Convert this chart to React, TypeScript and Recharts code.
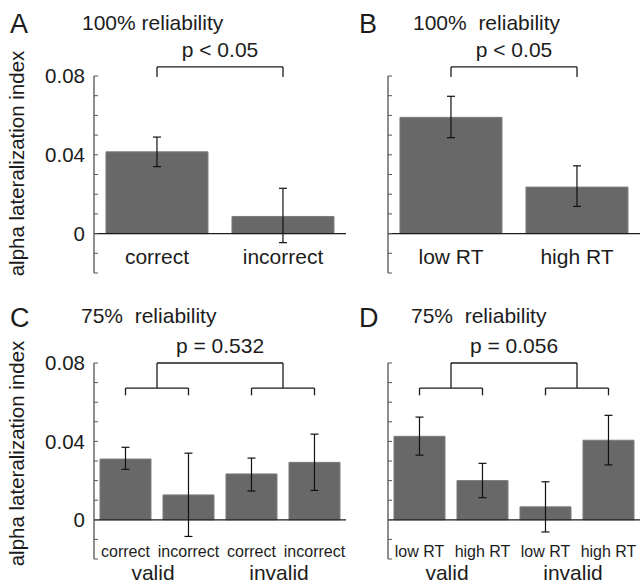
import { Bar, BarChart, ErrorBar, ReferenceLine, XAxis, YAxis } from "recharts";

const INK = "#1c1c1c";
const BAR_FILL = "#686868";
const FONT = '"Liberation Sans", Arial, Helvetica, sans-serif';

const Y_DOMAIN = [-0.02, 0.08];
const Y_TICKS = [-0.02, -0.01, 0, 0.01, 0.02, 0.03, 0.04, 0.05, 0.06, 0.07, 0.08];
const Y_LABELED = [0, 0.04, 0.08];
const PLOT_W = 252;

// panel A: 100% reliability, correct vs incorrect
const aKeys = ["correct", "incorrect"];
const aLabels = ["correct", "incorrect"];
const aMean = [0.0415, 0.0087];
const aLow = [0.034, -0.0046];
const aHigh = [0.049, 0.023];

// panel B: 100% reliability, low vs high RT
const bKeys = ["low RT", "high RT"];
const bLabels = ["low RT", "high RT"];
const bMean = [0.059, 0.0236];
const bLow = [0.0487, 0.0138];
const bHigh = [0.0697, 0.0344];

// panel C: 75% reliability
const cKeys = ["v-correct", "v-incorrect", "i-correct", "i-incorrect"];
const cLabels = ["correct", "incorrect", "correct", "incorrect"];
const cMean = [0.031, 0.0127, 0.0234, 0.0293];
const cLow = [0.0257, -0.0085, 0.0147, 0.015];
const cHigh = [0.037, 0.034, 0.0315, 0.0437];

// panel D: 75% reliability, RT split
const dKeys = ["v-low", "v-high", "i-low", "i-high"];
const dLabels = ["low RT", "high RT", "low RT", "high RT"];
const dMean = [0.0426, 0.02, 0.0066, 0.0406];
const dLow = [0.033, 0.0113, -0.0062, 0.028];
const dHigh = [0.0524, 0.0288, 0.0194, 0.0533];

const groups = ["valid", "invalid"];

function rows(keys: string[], mean: number[], low: number[], high: number[]) {
  return keys.map((k, i) => ({
    key: k,
    mean: mean[i],
    err: [mean[i] - low[i], high[i] - mean[i]],
  }));
}

type Seg = { from: string; to: string; y: number; leg: number; pos?: "start" | "middle"; label?: string };

function bracket(s: Seg, id: string) {
  const pos = s.pos ?? "middle";
  const common = { stroke: INK, strokeWidth: 1.3, ifOverflow: "visible" as const, position: pos };
  return [
    <ReferenceLine
      key={id + "h"}
      {...common}
      segment={[{ x: s.from, y: s.y }, { x: s.to, y: s.y }]}
      label={s.label ? { value: s.label, position: "top", offset: 10, fontSize: 21, fill: INK } : undefined}
    />,
    <ReferenceLine key={id + "l"} {...common} segment={[{ x: s.from, y: s.y }, { x: s.from, y: s.leg }]} />,
    <ReferenceLine key={id + "r"} {...common} segment={[{ x: s.to, y: s.y }, { x: s.to, y: s.leg }]} />,
  ];
}

function YTick(props: any) {
  const { x, y, payload, showLabel } = props;
  const ax = x + 6;
  const v = payload.value;
  const labeled = showLabel && Y_LABELED.some((t) => Math.abs(t - v) < 1e-9);
  return (
    <g>
      <line x1={ax} x2={ax + 4} y1={y} y2={y} stroke="#555" strokeWidth={1} />
      {labeled && (
        <text x={x - 3} y={y} dy="0.36em" textAnchor="end" fontSize={20.5} fill={INK}>
          {v === 0 ? "0" : v.toFixed(2)}
        </text>
      )}
    </g>
  );
}

function XTick(props: any) {
  const { x, y, index, labels, size, dy, grouped } = props;
  const i = index ?? props.payload?.index ?? 0;
  return (
    <g>
      <text x={x} y={y + dy} textAnchor="middle" fontSize={size} fill={INK}>
        {labels[i]}
      </text>
      {grouped && i % 2 === 0 && (
        <text x={x + PLOT_W / labels.length / 2 - 4} y={y + 20.5} textAnchor="middle" fontSize={21} fill={INK}>
          {groups[i / 2]}
        </text>
      )}
    </g>
  );
}

type PanelProps = {
  data: any[];
  labels: string[];
  left: number;
  top: number;
  width: number;
  height: number;
  marginTop: number;
  marginLeft: number;
  xAxisHeight: number;
  showYLabels: boolean;
  brackets: Seg[];
  tickSize: number;
  tickDy: number;
  grouped: boolean;
};

function Panel(p: PanelProps) {
  return (
    <div style={{ position: "absolute", left: p.left, top: p.top }}>
      <BarChart
        width={p.width}
        height={p.height}
        data={p.data}
        margin={{ top: p.marginTop, right: p.width - p.marginLeft - 60 - PLOT_W, bottom: 0, left: p.marginLeft }}
        barCategoryGap="9.5%"
      >
        <XAxis
          dataKey="key"
          height={p.xAxisHeight}
          axisLine={false}
          tickLine={false}
          tickSize={0}
          tickMargin={0}
          interval={0}
          tick={<XTick labels={p.labels} size={p.tickSize} dy={p.tickDy} grouped={p.grouped} />}
        />
        <YAxis
          width={60}
          domain={Y_DOMAIN}
          ticks={Y_TICKS}
          allowDataOverflow
          axisLine={{ stroke: "#444", strokeWidth: 1.2 }}
          tickLine={false}
          tickSize={0}
          tickMargin={6}
          interval={0}
          tick={<YTick showLabel={p.showYLabels} />}
        />
        <Bar dataKey="mean" fill={BAR_FILL} stroke="#7c7c7c" strokeWidth={1} isAnimationActive={false}>
          <ErrorBar dataKey="err" width={4} stroke="#111" strokeWidth={1.2} isAnimationActive={false} />
        </Bar>
        <ReferenceLine y={0} stroke={INK} strokeWidth={1.2} />
        {p.brackets.flatMap((s, i) => bracket(s, "b" + i))}
      </BarChart>
    </div>
  );
}

export default function App() {
  const topProps = { height: 300, marginTop: 76, xAxisHeight: 27, tickSize: 21, tickDy: -9, grouped: false };
  const botProps = { height: 295, marginTop: 73, xAxisHeight: 26, tickSize: 16, tickDy: -2, grouped: true };
  const txt = { fill: INK, style: { whiteSpace: "pre" as const } };
  return (
    <div
      style={{
        position: "absolute",
        left: 0,
        top: 0,
        width: 641,
        height: 585,
        background: "#fff",
        fontFamily: FONT,
        overflow: "hidden",
      }}
    >
      <Panel
        {...topProps}
        data={rows(aKeys, aMean, aLow, aHigh)}
        labels={aLabels}
        left={0}
        top={0}
        width={350}
        marginLeft={34}
        showYLabels
        brackets={[{ from: "correct", to: "incorrect", y: 0.0846, leg: 0.0795, label: "p < 0.05" }]}
      />
      <Panel
        {...topProps}
        data={rows(bKeys, bMean, bLow, bHigh)}
        labels={bLabels}
        left={300}
        top={0}
        width={341}
        marginLeft={28}
        showYLabels={false}
        brackets={[{ from: "low RT", to: "high RT", y: 0.0846, leg: 0.0795, label: "p < 0.05" }]}
      />
      <Panel
        {...botProps}
        data={rows(cKeys, cMean, cLow, cHigh)}
        labels={cLabels}
        left={0}
        top={290}
        width={350}
        marginLeft={34}
        showYLabels
        brackets={[
          { from: "v-correct", to: "v-incorrect", y: 0.0672, leg: 0.0635 },
          { from: "i-correct", to: "i-incorrect", y: 0.0672, leg: 0.0635 },
          { from: "v-incorrect", to: "i-incorrect", y: 0.08, leg: 0.0672, pos: "start", label: "p = 0.532" },
        ]}
      />
      <Panel
        {...botProps}
        data={rows(dKeys, dMean, dLow, dHigh)}
        labels={dLabels}
        left={300}
        top={290}
        width={341}
        marginLeft={28}
        showYLabels={false}
        brackets={[
          { from: "v-low", to: "v-high", y: 0.0672, leg: 0.0635 },
          { from: "i-low", to: "i-high", y: 0.0672, leg: 0.0635 },
          { from: "v-high", to: "i-high", y: 0.08, leg: 0.0672, pos: "start", label: "p = 0.056" },
        ]}
      />
      <svg
        width={641}
        height={585}
        style={{ position: "absolute", left: 0, top: 0, pointerEvents: "none" }}
      >
        <text x={10} y={33} fontSize={27} {...txt}>A</text>
        <text x={82} y={29.5} fontSize={21} {...txt}>100% reliability</text>
        <text x={359} y={33} fontSize={27} {...txt}>B</text>
        <text x={413} y={29.5} fontSize={21} {...txt}>100%  reliability</text>
        <text x={10} y={327} fontSize={27} {...txt}>C</text>
        <text x={81} y={323} fontSize={21} {...txt}>75%  reliability</text>
        <text x={359} y={327} fontSize={27} {...txt}>D</text>
        <text x={411} y={323} fontSize={21} {...txt}>75%  reliability</text>
        <text x={23.5} y={163.5} fontSize={20.5} textAnchor="middle" transform="rotate(-90 23.5 163.5)" {...txt}>
          alpha lateralization index
        </text>
        <text x={23.5} y={453.5} fontSize={20.5} textAnchor="middle" transform="rotate(-90 23.5 453.5)" {...txt}>
          alpha lateralization index
        </text>
      </svg>
    </div>
  );
}
